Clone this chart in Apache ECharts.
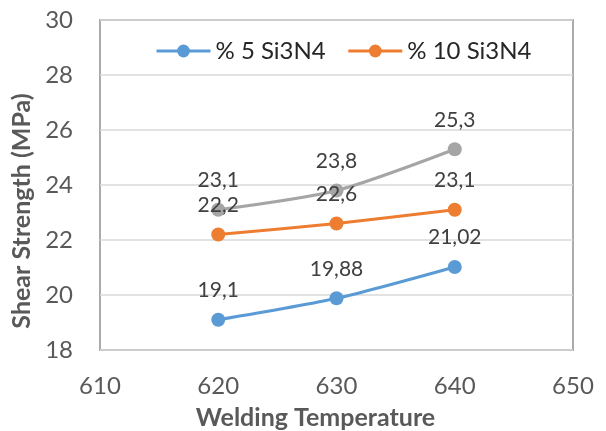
<!DOCTYPE html>
<html><head><meta charset="utf-8">
<script src="https://cdn.jsdelivr.net/npm/echarts@6/dist/echarts.min.js"></script>
<style>html,body{margin:0;padding:0;background:#fff}#c{width:606px;height:431px}</style>
</head><body><div id="c"></div>
<script>
const temperatures = [620, 630, 640];
const series5 = [19.1, 19.88, 21.02];
const series10 = [22.2, 22.6, 23.1];
const series3 = [23.1, 23.8, 25.3];
const seriesNames = ['% 5 Si3N4', '% 10 Si3N4', ''];
const xTicks = {min: 610, max: 650, interval: 10};
const yTicks = {min: 18, max: 30, interval: 2};

const FONT = 'Lato';
const TXT = '#595959';
function pairs(vals){ return temperatures.map((t,i)=>[t, vals[i]]); }
function mk(name, vals, color){
  return {
    name: name, type: 'line', data: pairs(vals), smooth: 0.25,
    symbol: 'circle', symbolSize: 14,
    lineStyle: {color: color, width: 3},
    itemStyle: {color: color},
    label: {show: true, position: 'top', distance: 12, color: '#404040',
      fontFamily: FONT, fontSize: 21,
      formatter: p => String(p.value[1]).replace('.', ',')},
    emphasis: {disabled: true}
  };
}
const chart = echarts.init(document.getElementById('c'));
chart.setOption({
  animation: false,
  textStyle: {fontFamily: FONT},
  grid: {left: 100, right: 33, top: 20, bottom: 81, outerBoundsMode: 'none', containLabel: false,
    show: true, borderColor: '#ABABAB', borderWidth: 2},
  legend: {data: [seriesNames[0], seriesNames[1]], top: 34, left: 150, itemWidth: 54, itemHeight: 16, itemGap: 21,
    lineStyle: {width: 3},
    textStyle: {color: '#262626', fontSize: 24, fontFamily: FONT}},
  xAxis: {type: 'value', min: xTicks.min, max: xTicks.max, interval: xTicks.interval,
    name: 'Welding Temperature', nameLocation: 'middle', nameGap: 55,
    nameTextStyle: {color: TXT, fontSize: 25, fontWeight: 'bold', fontFamily: FONT, padding: [0, 42, 0, 0]},
    axisLine: {show: false}, axisTick: {show: false}, splitLine: {show: false},
    axisLabel: {color: TXT, fontSize: 24, margin: 24, fontFamily: FONT}},
  yAxis: {type: 'value', min: yTicks.min, max: yTicks.max, interval: yTicks.interval,
    name: 'Shear Strength (MPa)', nameLocation: 'middle', nameGap: 61,
    nameTextStyle: {color: TXT, fontSize: 25, fontWeight: 'bold', fontFamily: FONT, padding: [0, 52, 0, 0]},
    axisLine: {show: false}, axisTick: {show: false},
    splitLine: {lineStyle: {color: '#D9D9D9', width: 1.5}},
    axisLabel: {color: TXT, fontSize: 24, margin: 27, fontFamily: FONT}},
  series: [
    mk(seriesNames[2], series3, '#A5A5A5'),
    mk(seriesNames[1], series10, '#ED7D31'),
    mk(seriesNames[0], series5, '#5B9BD5')
  ]
});
</script></body></html>
